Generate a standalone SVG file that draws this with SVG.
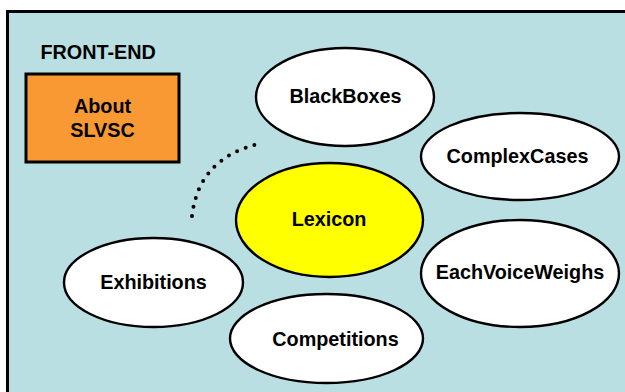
<svg xmlns="http://www.w3.org/2000/svg" width="625" height="392" viewBox="0 0 625 392">
  <style>
    text { font-family: "Liberation Sans", Arial, sans-serif; font-weight: bold; font-size: 19.8px; fill: #000; }
    .node { fill: #fff; stroke: #000; stroke-width: 2.4; }
    .center { fill: #ffff00; }
    .box { fill: #f99933; stroke: #000; stroke-width: 3; }
  </style>
  <rect x="0" y="0" width="625" height="392" fill="#fff"/>
  <rect x="7.5" y="11.5" width="700" height="500" fill="#badfe2" stroke="#000" stroke-width="3"/>
  <text x="40.5" y="59">FRONT-END</text>
  <g id="about">
    <rect class="box" x="26" y="74" width="153" height="88"/>
    <text x="102.5" y="113" text-anchor="middle">About</text>
    <text x="102.5" y="137" text-anchor="middle">SLVSC</text>
  </g>
  <g id="connectors">
    <path d="M192,216 Q199,157 261,143.5" fill="none" stroke="#000" stroke-width="4" stroke-linecap="round" stroke-dasharray="0 9.2"/>
  </g>
  <g id="blackboxes">
    <ellipse class="node" cx="345" cy="97" rx="89" ry="49"/>
    <text x="345.5" y="103" text-anchor="middle">BlackBoxes</text>
  </g>
  <g id="complexcases">
    <ellipse class="node" cx="520" cy="156.5" rx="99" ry="43.5"/>
    <text x="517.5" y="163" text-anchor="middle">ComplexCases</text>
  </g>
  <g id="lexicon">
    <ellipse class="node center" cx="329.5" cy="220" rx="93.5" ry="57"/>
    <text x="329" y="226" text-anchor="middle">Lexicon</text>
  </g>
  <g id="eachvoiceweighs">
    <ellipse class="node" cx="520" cy="273.5" rx="99" ry="53.5"/>
    <text x="520" y="279" text-anchor="middle">EachVoiceWeighs</text>
  </g>
  <g id="exhibitions">
    <ellipse class="node" cx="153.5" cy="282.5" rx="89.5" ry="44.5"/>
    <text x="153.5" y="289" text-anchor="middle">Exhibitions</text>
  </g>
  <g id="competitions">
    <ellipse class="node" cx="326.5" cy="338.5" rx="96.5" ry="44.5"/>
    <text x="335.5" y="346" text-anchor="middle">Competitions</text>
  </g>
</svg>
